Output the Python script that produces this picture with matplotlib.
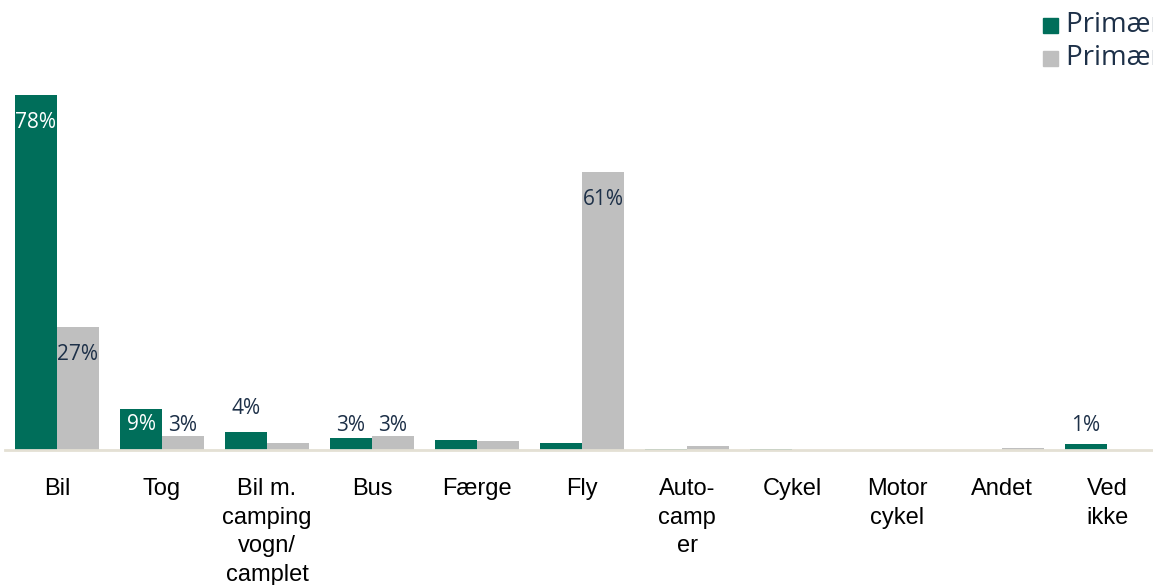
import numpy as np
import matplotlib
matplotlib.use("Agg")
from matplotlib import pyplot as plt

categories = ["Bil", "Tog", "Bil m.\ncamping\nvogn/\ncamplet", "Bus", "Færge", "Fly",
              "Auto-\ncamp\ner", "Cykel", "Motor\ncykel", "Andet", "Ved\nikke"]
green_vals = [78, 9, 4, 2.6, 2.2, 1.5, 0.3, 0.3, 0.1, 0.1, 1.3]
grey_vals = [27, 3, 1.5, 3.1, 2.0, 61, 0.9, 0.0, 0.1, 0.4, 0.0]
green_labels = ["78%", "9%", "4%", "3%", "", "", "", "", "", "", "1%"]
grey_labels = ["27%", "3%", "", "3%", "", "61%", "", "", "", "", ""]
legend_names = ["Primært transportmiddel 2023", "Primært transportmiddel 2019"]

GREEN = "#006e5a"
GREY = "#bfbfbf"
TEXT = "#1d3048"
VALUE_FONT = ["Open Sans", "DejaVu Sans"]

W, H = 1153, 585
fig = plt.figure(figsize=(W / 100, H / 100), dpi=100)
ax = fig.add_axes([5 / W, 135 / H, 1148 / W, 450 / H])

x = np.arange(len(categories))
bw = 0.4
ax.bar(x - bw / 2, green_vals, bw, color=GREEN)
ax.bar(x + bw / 2, grey_vals, bw, color=GREY)

ax.set_xlim((5 - 57) / 105, (1153 - 57) / 105)
ax.set_ylim(0, 450 / 4.55)


def label_y(v, inside):
    if v >= 20:
        return v - 6
    if inside:
        return v - 3.5
    return 5.3


for i, (v, t) in enumerate(zip(green_vals, green_labels)):
    if not t:
        continue
    inside = v >= 8
    y = label_y(v, inside)
    if t == "4%":
        y = 9.2
    ax.text(i - bw / 2, y, t, ha="center", va="center", fontsize=15,
            color="white" if inside else TEXT, family=VALUE_FONT)

for i, (v, t) in enumerate(zip(grey_vals, grey_labels)):
    if not t:
        continue
    ax.text(i + bw / 2, label_y(v, v >= 8), t, ha="center", va="center",
            fontsize=15, color=TEXT, family=VALUE_FONT)

for s in ["top", "right", "left"]:
    ax.spines[s].set_visible(False)
ax.spines["bottom"].set_color("#e4e0d4")
ax.spines["bottom"].set_linewidth(2)
ax.set_yticks([])
ax.set_xticks(x)
ax.set_xticklabels(categories, fontsize=17, color="black",
                   family=["Liberation Sans", "DejaVu Sans"], linespacing=1.4)
ax.tick_params(axis="x", length=0, pad=20)

# legend, cut off at the right edge like the original
for k, (name, col) in enumerate(zip(legend_names, [GREEN, GREY])):
    yc = 1 - (25 + 33 * k) / H
    fig.patches.append(plt.Rectangle((1043 / W, yc - 8 / H), 15 / W, 15 / H,
                                     transform=fig.transFigure, color=col))
    fig.text(1066 / W, yc, name, fontsize=20, color=TEXT, va="center",
             family=VALUE_FONT)

fig.savefig("out.png", dpi=100)
